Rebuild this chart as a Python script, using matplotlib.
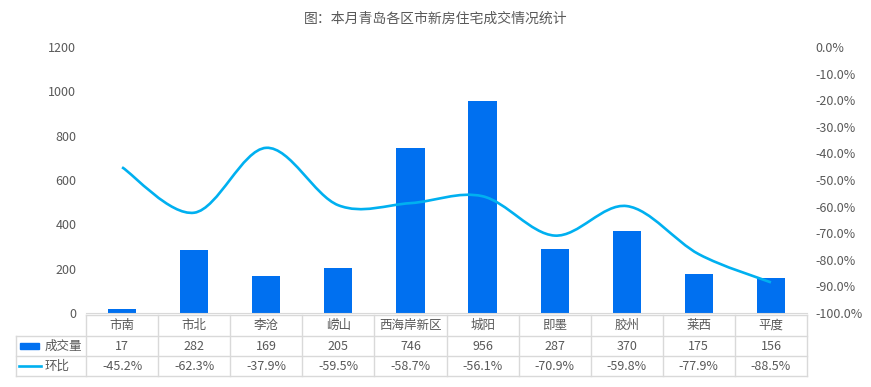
import matplotlib
matplotlib.use("Agg")
import matplotlib.pyplot as plt
from matplotlib.path import Path
from matplotlib.patches import PathPatch, Rectangle
from matplotlib.lines import Line2D

plt.rcParams['font.family'] = ['Noto Sans CJK SC', 'DejaVu Sans']

districts = ['市南', '市北', '李沧', '崂山', '西海岸新区', '城阳', '即墨', '胶州', '莱西', '平度']
volume = [17, 282, 169, 205, 746, 956, 287, 370, 175, 156]
mom = [-45.2, -62.3, -37.9, -59.5, -58.7, -56.1, -70.9, -59.8, -77.9, -88.5]
row_labels = ['成交量', '环比']
title = '图：本月青岛各区市新房住宅成交情况统计'

bar_color = '#0070F0'
line_color = '#00B0F0'
text_color = '#595959'
grid_color = '#D9D9D9'

W, H = 871, 387
fig = plt.figure(figsize=(W / 100, H / 100), dpi=100)
left, right, bottom, top = 86, 807, 313, 47
ax = fig.add_axes([left / W, 1 - bottom / H, (right - left) / W, (bottom - top) / H])

n = len(districts)
xs = list(range(n))
ax.bar(xs, volume, width=0.39, color=bar_color, zorder=2)
ax.set_xlim(-0.5, n - 0.5)
ax.set_ylim(0, 1200)
ax.set_yticks(range(0, 1201, 200))
ax.set_xticks([])
ax.tick_params(axis='y', length=0, pad=7, labelsize=9, labelcolor=text_color)
for s in ['top', 'left', 'right']:
    ax.spines[s].set_visible(False)
ax.spines['bottom'].set_color(grid_color)

ax2 = ax.twinx()
ax2.set_ylim(-100, 0)
ax2.set_yticks(range(-100, 1, 10))
ax2.set_yticklabels([f'{v:.1f}%' for v in range(-100, 1, 10)])
ax2.tick_params(axis='y', length=0, pad=6, labelsize=9, labelcolor=text_color)
for s in ax2.spines.values():
    s.set_visible(False)

# smoothed line (Catmull-Rom style bezier like Excel)
pts = list(zip(xs, mom))
verts = [pts[0]]
codes = [Path.MOVETO]
for i in range(n - 1):
    p0 = pts[i - 1] if i > 0 else pts[i]
    p1 = pts[i]
    p2 = pts[i + 1]
    p3 = pts[i + 2] if i + 2 < n else pts[i + 1]
    c1 = (p1[0] + (p2[0] - p0[0]) / 6, p1[1] + (p2[1] - p0[1]) / 6)
    c2 = (p2[0] - (p3[0] - p1[0]) / 6, p2[1] - (p3[1] - p1[1]) / 6)
    verts += [c1, c2, p2]
    codes += [Path.CURVE4] * 3
ax2.add_patch(PathPatch(Path(verts, codes), fill=False, edgecolor=line_color,
                        linewidth=1.9, zorder=3))

# data table below the axes
def ay(py):
    return (bottom - py) / (bottom - top)

def ax_x(px):
    return (px - left) / (right - left)

rows_y = [315, 336, 356, 376]
lkw = dict(color=grid_color, linewidth=1, transform=ax.transAxes, clip_on=False)
ax.add_line(Line2D([0, 1], [ay(rows_y[0])] * 2, **lkw))
for py in rows_y[1:]:
    ax.add_line(Line2D([ax_x(16), 1], [ay(py)] * 2, **lkw))
for k in range(n + 1):
    xa = k / n
    ax.add_line(Line2D([xa, xa], [ay(rows_y[0]), ay(rows_y[3])], **lkw))
ax.add_line(Line2D([ax_x(16), ax_x(16)], [ay(rows_y[1]), ay(rows_y[3])], **lkw))

tkw = dict(transform=ax.transAxes, ha='center', va='center', fontsize=9,
           color=text_color, clip_on=False)
for k in range(n):
    xc = (k + 0.5) / n
    ax.text(xc, ay((rows_y[0] + rows_y[1]) / 2), districts[k], **tkw)
    ax.text(xc, ay((rows_y[1] + rows_y[2]) / 2), str(volume[k]), **tkw)
    ax.text(xc, ay((rows_y[2] + rows_y[3]) / 2), f'{mom[k]:.1f}%', **tkw)

ax.add_patch(Rectangle((ax_x(20), ay(349)), ax_x(39) - ax_x(20), ay(343) - ay(349),
                       transform=ax.transAxes, color=bar_color, clip_on=False))
ax.add_line(Line2D([ax_x(19), ax_x(41)], [ay(366)] * 2, color=line_color, linewidth=1.9,
                   transform=ax.transAxes, clip_on=False))
ax.text(ax_x(45), ay(346), row_labels[0], transform=ax.transAxes, ha='left', va='center',
        fontsize=9, color=text_color, clip_on=False)
ax.text(ax_x(45), ay(366), row_labels[1], transform=ax.transAxes, ha='left', va='center',
        fontsize=9, color=text_color, clip_on=False)

fig.text(0.5, 1 - 19 / H, title, ha='center', va='center', fontsize=10, color=text_color)

fig.savefig('out.png', dpi=100, facecolor='white')
